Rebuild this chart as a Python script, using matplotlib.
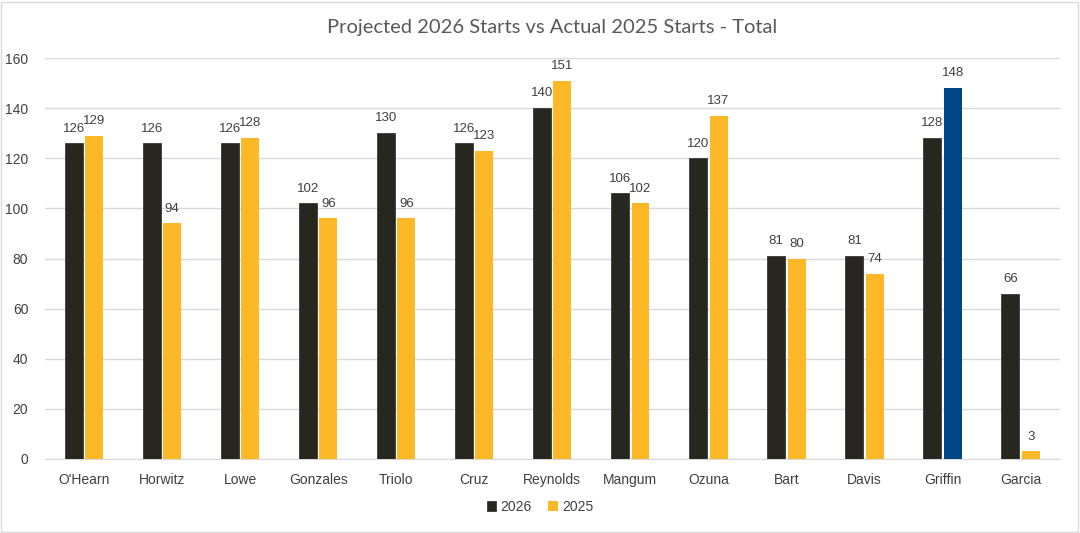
import matplotlib.pyplot as plt
import numpy as np

plt.rcParams['font.family'] = ['Liberation Sans', 'DejaVu Sans']

# Data.
players = ["O'Hearn", 'Horwitz', 'Lowe', 'Gonzales', 'Triolo', 'Cruz', 'Reynolds',
           'Mangum', 'Ozuna', 'Bart', 'Davis', 'Griffin', 'Garcia']
starts_2026 = [126, 126, 126, 102, 130, 126, 140, 106, 120, 81, 81, 128, 66]
starts_2025 = [129, 94, 128, 96, 96, 123, 151, 102, 137, 80, 74, 148, 3]

dark = '#27261f'
gold = '#fdb827'
blue = '#004687'
text_col = '#404040'

fig = plt.figure(figsize=(10.8, 5.33), dpi=100)
ax = fig.add_axes([0.0417, 0.139, 0.9394, 0.752])

x = np.arange(len(players))
w = 0.23
b1 = ax.bar(x - 0.13, starts_2026, w, color=dark, edgecolor='#3a3a3a',
            linewidth=0.6, label='2026', zorder=3)
colors_2025 = [blue if p == 'Griffin' else gold for p in players]
b2 = ax.bar(x + 0.13, starts_2025, w, color=colors_2025, label='2025', zorder=3)

# Value labels above bars.
for rect, v in zip(b1, starts_2026):
    ax.text(rect.get_x() + rect.get_width() / 2, v + 3.5, str(v),
            ha='center', va='bottom', fontsize=9.5, color=text_col)
for rect, v in zip(b2, starts_2025):
    ax.text(rect.get_x() + rect.get_width() / 2, v + 3.5, str(v),
            ha='center', va='bottom', fontsize=9.5, color=text_col)

ax.set_xlim(-0.5, len(players) - 0.5)
ax.set_ylim(0, 160)
ax.set_yticks(range(0, 161, 20))
ax.set_xticks(x)
ax.set_xticklabels(players)
ax.tick_params(length=0, labelsize=10, colors=text_col)
ax.tick_params(axis='y', pad=12)
ax.tick_params(axis='x', pad=10)
ax.grid(axis='y', color='#d9d9d9', linewidth=1, zorder=0)
for s in ['top', 'right', 'left']:
    ax.spines[s].set_visible(False)
ax.spines['bottom'].set_color('#d9d9d9')

ax.set_title('Projected 2026 Starts vs Actual 2025 Starts - Total',
             fontsize=14.5, color='#595959', pad=18, family=['Lato', 'DejaVu Sans'])

leg = fig.legend(handles=[b1, b2[0]], labels=['2026', '2025'], loc='lower center',
                 bbox_to_anchor=(0.5, 0.012), ncol=2, frameon=False, fontsize=10,
                 handlelength=0.7, handleheight=0.7, handletextpad=0.3, columnspacing=1.2)
for t in leg.get_texts():
    t.set_color(text_col)

# Light border around the chart.
fig.patches.append(plt.Rectangle((0.001, 0.002), 0.997, 0.995, transform=fig.transFigure,
                                 fill=False, edgecolor='#d9d9d9', linewidth=1))

plt.savefig('out.png', dpi=100)
